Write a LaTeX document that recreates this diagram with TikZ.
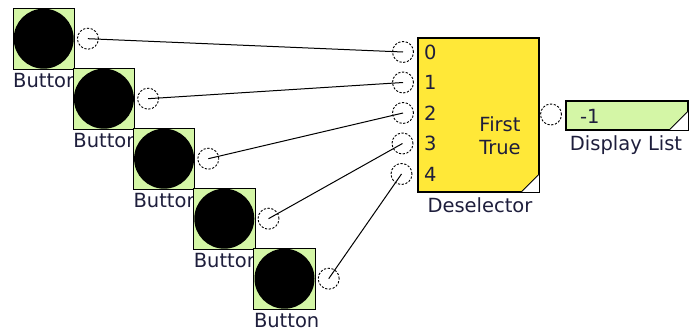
\documentclass[tikz,border=0pt]{standalone}
\usepackage{fontspec}
\setmainfont{DejaVu Sans}
\definecolor{pgreen}{RGB}{212,246,166}
\definecolor{dyellow}{RGB}{255,232,56}
\definecolor{labc}{RGB}{30,30,60}
\begin{document}
\begin{tikzpicture}[x=1pt,y=-1pt,
  lbl/.style={font=\fontsize{19.5}{22}\selectfont, text=labc, inner sep=0pt},
  port/.style={circle, draw, line width=0.9pt, dash pattern=on 2.2pt off 1.6pt, minimum size=21pt, inner sep=0pt},
  btnbox/.style={fill=pgreen, minimum size=61pt, inner sep=0pt, anchor=north west},
  wire/.style={line width=1pt}
]
\useasboundingbox (0,0) rectangle (691,332);
% buttons
\foreach \i in {0,...,4} {
  \node[btnbox] (b\i) at (13+60.2*\i, 8+60*\i) {};
  \fill (b\i.center) circle[radius=30pt];
  \draw[line width=1pt] (b\i.north west) rectangle (b\i.south east);
  \node[port] (o\i) at ([xshift=13.5pt]b\i.east) {};
  \node[lbl, anchor=base west] (l\i) at ([yshift=-18.5pt]b\i.south west) {Button};
}
% deselector
\node[draw, line width=1.1pt, fill=dyellow, minimum width=120pt, minimum height=153pt, inner sep=0pt, anchor=north west] (d) at (418,38) {};
\fill[white] (d.south east) -- ([xshift=-18pt]d.south east) -- ([yshift=18pt]d.south east) -- cycle;
\draw[line width=0.8pt] ([xshift=-18pt]d.south east) -- ([yshift=18pt]d.south east);
\draw[line width=1.1pt] (d.north west) rectangle (d.south east);
\foreach \i/\yy/\xx in {0/52/403,1/82.5/403,2/113/403,3/143.5/402.5,4/174/401.5} {
  \node[port] (in\i) at (\xx,\yy) {};
  \node[lbl, anchor=west] (n\i) at (424,\yy) {\i};
}
\node[lbl] (f1) at (500,124) {First};
\node[lbl] (f2) at (500,148) {True};
\node[lbl, anchor=base] (dl) at (480,212) {Deselector};
% output port and display
\node[port] (dout) at (551,114.5) {};
\node[draw, line width=1.1pt, fill=pgreen, minimum width=121pt, minimum height=28pt, inner sep=0pt, anchor=north west] (disp) at (566,101) {};
\fill[white] (disp.south east) -- ([xshift=-19pt]disp.south east) -- ([yshift=19pt]disp.south east) -- cycle;
\draw[line width=0.8pt] ([xshift=-19pt]disp.south east) -- ([yshift=19pt]disp.south east);
\draw[line width=1.1pt] (disp.north west) rectangle (disp.south east);
\node[lbl, anchor=west] (dv) at (580,116) {-1};
\node[lbl, anchor=base] (dlab) at (626,150) {Display List};
% wires
\foreach \i in {0,...,4} {
  \draw[wire] (o\i.center) -- (in\i.center);
}
\end{tikzpicture}
\end{document}
